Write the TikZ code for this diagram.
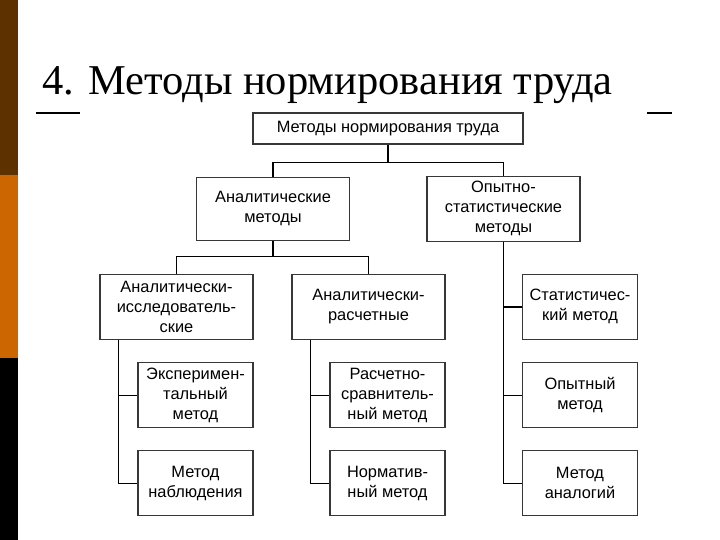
\documentclass[tikz,border=0pt]{standalone}
\usepackage{fontspec}
\setmainfont{Liberation Serif}
\newfontfamily\boxfont{Liberation Sans}
\usetikzlibrary{positioning}
\definecolor{barbrown}{RGB}{94,50,0}
\definecolor{barorange}{RGB}{204,102,0}
\definecolor{edgegray}{RGB}{55,55,55}
\tikzset{
  mbox/.style={draw=edgegray, line width=1.2pt, fill=white, align=center, inner sep=2pt,
    minimum width=153pt, minimum height=65pt, font=\boxfont\fontsize{16.4}{20}\selectfont},
  sbox/.style={mbox, minimum width=115pt},
  link/.style={draw=black, line width=1.2pt},
}

\begin{document}
\begin{tikzpicture}[x=1pt, y=-1pt]

  % Slide background and side bar
  \fill[white] (0,0) rectangle (720,540);
  \fill[barbrown] (0,0) rectangle (18,175);
  \fill[barorange] (0,175) rectangle (18,358);
  \fill[black] (0,358) rectangle (18,540);
  \useasboundingbox (0,0) rectangle (720,540);

  % Title
  \node[anchor=base west, inner sep=0pt, font=\fontsize{42.5}{50}\selectfont] (title) at (42,95) {4. Методы нормирования труда};
  \coordinate (ula) at (36,113);
  \coordinate (ulb) at (80,113);
  \coordinate (ulc) at (647,113);
  \coordinate (uld) at (672,113);
  \draw[line width=1.6pt] (ula) -- (ulb);
  \draw[line width=1.6pt] (ulc) -- (uld);

  % Define nodes
  \node[mbox, minimum width=270pt, minimum height=31pt] (mn) at (388,128.5) {Методы нормирования труда};
  \node[mbox, below=32pt of mn, xshift=-115pt, minimum height=63pt] (am) {Аналитические\\методы};
  \node[mbox, below=31pt of mn, xshift=115.5pt] (os) {Опытно-\\статистические\\методы};
  \node[mbox, below=33pt of am, xshift=-96.5pt] (ai) {Аналитически-\\исследователь-\\ские};
  \node[mbox, below=33pt of am, xshift=95.5pt] (ar) {Аналитически-\\расчетные};
  \node[sbox, below=32pt of os, xshift=76.5pt] (sm) {Статистичес-\\кий метод};
  \node[sbox, below=22pt of ai, xshift=19pt] (em) {Эксперимен-\\тальный\\метод};
  \node[sbox, below=22pt of em] (nm) {Метод\\наблюдения};
  \node[sbox, below=22pt of ar, xshift=19pt] (rs) {Расчетно-\\сравнитель-\\ный метод};
  \node[sbox, below=22pt of rs] (nr) {Норматив-\\ный метод};
  \node[sbox, below=22pt of sm] (om) {Опытный\\метод};
  \node[sbox, below=22pt of om] (ma) {Метод\\аналогий};

  % Connect the nodes
  \draw[link] (mn.south) -- ++(0,18) -| (am.north);
  \draw[link] (mn.south) -- ++(0,18) -| (os.north);
  \draw[link] (am.south) -- ++(0,16) -| (ai.north);
  \draw[link] (am.south) -- ++(0,16) -| (ar.north);
  \draw[link] ([xshift=19pt]ai.south west) |- (em.west);
  \draw[link] ([xshift=19pt]ai.south west) |- (nm.west);
  \draw[link] ([xshift=19pt]ar.south west) |- (rs.west);
  \draw[link] ([xshift=19pt]ar.south west) |- (nr.west);
  \draw[link] (os.south) |- (sm.west);
  \draw[link] (os.south) |- (om.west);
  \draw[link] (os.south) |- (ma.west);

\end{tikzpicture}
\end{document}
